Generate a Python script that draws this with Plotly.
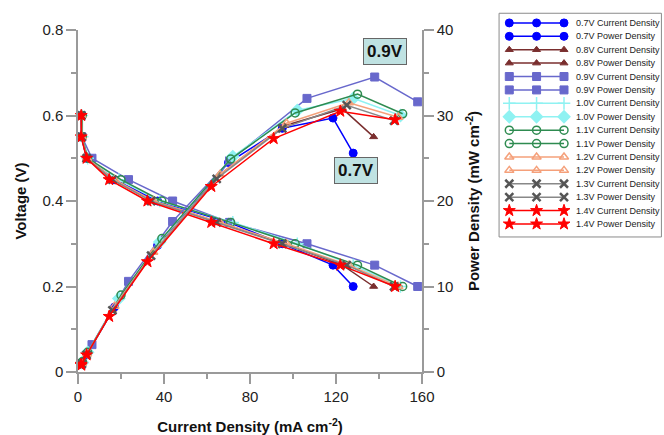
import plotly.graph_objects as go

# ---- data ----
voltage = [0.60, 0.55, 0.50, 0.45, 0.40, 0.35, 0.30, 0.25, 0.20]

i_07 = [1.5, 1.7, 4.0, 17.0, 37.0, 70.0, 95.0, 118.6, 128.0]
p_07 = [0.9, 0.95, 2.0, 7.6, 14.8, 24.5, 28.5, 29.7, 25.6]
i_08 = [1.5, 1.7, 4.0, 16.0, 35.0, 66.0, 96.0, 123.0, 137.5]
p_08 = [0.9, 0.95, 2.0, 7.2, 14.0, 23.1, 28.8, 30.8, 27.5]
i_09 = [1.5, 1.8, 6.5, 23.5, 44.0, 70.5, 106.5, 138.0, 158.0]
p_09 = [0.9, 1.0, 3.2, 10.6, 17.6, 24.7, 32.0, 34.5, 31.6]
i_10 = [1.8, 2.0, 4.5, 19.0, 38.0, 72.0, 102.0, 128.0, 150.0]
p_10 = [1.1, 1.1, 2.3, 8.6, 15.2, 25.2, 30.6, 32.0, 30.0]
i_11 = [2.0, 2.0, 4.5, 20.0, 39.0, 71.0, 101.0, 130.0, 151.0]
p_11 = [1.2, 1.1, 2.3, 9.0, 15.6, 24.9, 30.3, 32.5, 30.2]
i_12 = [1.6, 1.8, 4.2, 17.0, 35.0, 66.0, 97.0, 126.0, 149.0]
p_12 = [1.0, 1.0, 2.1, 7.7, 14.0, 23.1, 29.1, 31.5, 29.8]
i_13 = [1.5, 1.7, 4.0, 16.0, 34.0, 64.5, 95.0, 125.0, 147.0]
p_13 = [0.9, 0.95, 2.0, 7.2, 13.6, 22.6, 28.5, 31.2, 29.4]
i_14 = [1.5, 1.5, 4.0, 14.5, 32.3, 62.0, 91.0, 122.0, 147.5]
p_14 = [0.9, 0.8, 2.0, 6.5, 12.9, 21.7, 27.3, 30.5, 29.5]

series_labels = ["0.7V", "0.8V", "0.9V", "1.0V", "1.1V", "1.2V", "1.3V", "1.4V"]
currents = [i_07, i_08, i_09, i_10, i_11, i_12, i_13, i_14]
powers = [p_07, p_08, p_09, p_10, p_11, p_12, p_13, p_14]

# ---- styles ----
colors = ["#0000ff", "#7a2e2e", "#6868cc", "#8ff2f2", "#2e8b50", "#f5a07a", "#555555", "#ff0000"]
line_colors = ["#0000ff", "#7a2e2e", "#6868cc", "#8ff2f2", "#2e8b50", "#f5a07a", "#888888", "#ff0000"]
sym_cd = ["circle", "triangle-up", "square", "cross-thin", "circle-open", "triangle-up-open", "x-thin", "star"]
sym_pd = ["circle", "triangle-up", "square", "diamond", "circle-open", "triangle-up-open", "x-thin", "star"]
sizes = [8, 7, 8, 9, 8, 8, 8, 9]
mline = [1, 1, 1, 1.5, 1.5, 1.5, 2.5, 1]

fig = go.Figure()

for k in range(len(series_labels)):
    for is_power in (False, True):
        sym = sym_pd[k] if is_power else sym_cd[k]
        fig.add_trace(go.Scatter(
            x=currents[k],
            y=powers[k] if is_power else voltage,
            yaxis="y2" if is_power else "y",
            mode="lines+markers",
            line=dict(color=line_colors[k], width=1.5),
            marker=dict(symbol=sym, size=sizes[k], color=colors[k],
                        line=dict(color=colors[k], width=mline[k])),
            showlegend=False,
            cliponaxis=False,
        ))

# ---- custom legend (three markers per row) ----
row = 0
for k in range(len(series_labels)):
    for is_power in (False, True):
        sym = sym_pd[k] if is_power else sym_cd[k]
        fig.add_trace(go.Scatter(
            x=[0.063, 0.231, 0.40], y=[row] * 3,
            xaxis="x3", yaxis="y3",
            mode="lines+markers",
            line=dict(color=line_colors[k], width=1.5),
            marker=dict(symbol=sym, size=sizes[k], color=colors[k],
                        line=dict(color=colors[k], width=mline[k])),
            showlegend=False, cliponaxis=False, hoverinfo="skip",
        ))
        fig.add_annotation(
            x=0.462, y=row, xref="x3", yref="y3",
            text=f"{series_labels[k]} {'Power' if is_power else 'Current'} Density",
            showarrow=False, xanchor="left", yanchor="middle",
            font=dict(size=9, color="#222222", family="Liberation Sans, Arial, sans-serif"),
        )
        row += 1

fig.add_shape(type="rect", xref="paper", yref="paper",
              x0=0.721, x1=0.999, y0=0.373, y1=0.991,
              line=dict(color="#8a8a8a", width=1))

# ---- callout labels ----
for txt, xx, yy in [("0.9V", 142.7, 37.5), ("0.7V", 129.2, 23.6)]:
    fig.add_annotation(
        x=xx, y=yy, xref="x", yref="y2", text=f"<b>{txt}</b>", showarrow=False,
        bgcolor="#bfe2e2", bordercolor="#666666", borderwidth=1, borderpad=3,
        font=dict(size=17, color="#111111", family="Liberation Sans, Arial, sans-serif"),
    )

axis_font = dict(size=15, color="#222222", family="Liberation Sans, Arial, sans-serif")
title_font = dict(size=15, color="#111111", family="Liberation Sans, Arial, sans-serif")
axcol = "#9a9a9a"

fig.update_layout(
    width=664, height=435,
    margin=dict(l=78, r=2, t=10, b=63),
    paper_bgcolor="white", plot_bgcolor="white",
    font=dict(family="Liberation Sans, Arial, sans-serif"),
    xaxis=dict(
        domain=[0, 344 / 584], range=[0, 160], tickvals=[0, 40, 80, 120, 160],
        ticks="outside", ticklen=10, tickwidth=1.5, tickcolor=axcol,
        minor=dict(dtick=20, ticks="outside", ticklen=5, tickcolor=axcol, tickwidth=1.5),
        showline=True, linecolor=axcol, linewidth=1.5, showgrid=False, zeroline=False,
        tickfont=axis_font, automargin=False,
        title=dict(text="<b>Current Density (mA cm<sup>-2</sup>)</b>", font=title_font, standoff=22),
        anchor="y",
    ),
    yaxis=dict(
        domain=[0, 342 / 362], range=[0, 0.8], tickvals=[0, 0.2, 0.4, 0.6, 0.8],
        ticktext=["0", "0.2", "0.4", "0.6", "0.8"],
        ticks="outside", ticklen=10, tickwidth=1.5, tickcolor=axcol,
        minor=dict(dtick=0.1, ticks="outside", ticklen=5, tickcolor=axcol, tickwidth=1.5),
        showline=True, linecolor=axcol, linewidth=1.5, showgrid=False, zeroline=False,
        tickfont=axis_font, automargin=False,
        title=dict(text="<b>Voltage (V)</b>", font=title_font, standoff=12),
        anchor="x",
    ),
    yaxis2=dict(
        overlaying="y", side="right", anchor="x", range=[0, 40],
        tickvals=[0, 10, 20, 30, 40],
        ticks="outside", ticklen=10, tickwidth=1.5, tickcolor=axcol,
        minor=dict(dtick=5, ticks="outside", ticklen=5, tickcolor=axcol, tickwidth=1.5),
        showline=True, linecolor=axcol, linewidth=1.5, showgrid=False, zeroline=False,
        tickfont=axis_font, automargin=False,
        title=dict(text="<b>Power Density (mW cm<sup>-2</sup>)</b>", font=title_font, standoff=16),
    ),
    xaxis3=dict(domain=[0.721, 0.999], range=[0, 1], visible=False, anchor="y3", fixedrange=True),
    yaxis3=dict(domain=[0.373, 0.991], range=[15.97, -0.72], visible=False, anchor="x3", fixedrange=True),
)

fig.write_html("out.html", config={"displayModeBar": False},
               post_script="document.body.style.margin='0';")
